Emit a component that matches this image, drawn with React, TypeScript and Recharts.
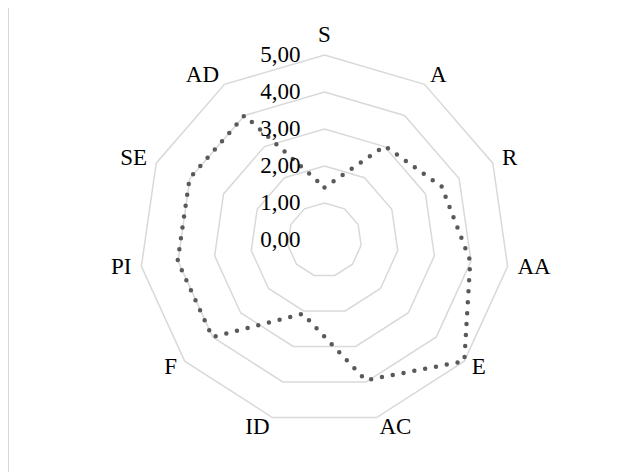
import React from 'react';
import { RadarChart, Radar, PolarGrid, PolarAngleAxis, PolarRadiusAxis } from 'recharts';

// axis categories, clockwise from the top
const categories = ['S', 'A', 'R', 'AA', 'E', 'AC', 'ID', 'F', 'PI', 'SE', 'AD'];
// values (scale 0..5)
const scores = [1.42, 3.02, 3.48, 3.98, 5.0, 3.95, 2.08, 4.01, 4.01, 4.01, 4.0];
const radiusTicks = [0, 1, 2, 3, 4, 5];

const data = categories.map((axis, i) => ({ axis, value: scores[i] }));

const CX = 315.5;
const CY = 232;
const R = 185;
const FONT = '"Liberation Serif", "Times New Roman", serif';
const RAD = Math.PI / 180;

// decimal comma, two places
const formatTick = (v: number) => v.toFixed(2).replace('.', ',');

function AngleTick(props: any) {
  const { payload } = props;
  const angle = payload.coordinate;
  const x = CX + (R + 10) * Math.cos(-angle * RAD);
  const y = CY + (R + 10) * Math.sin(-angle * RAD);
  const dx = x - CX;
  let anchor: 'start' | 'end' | 'middle' = 'middle';
  if (dx > 1) anchor = 'start';
  else if (dx < -1) anchor = 'end';
  const shift = anchor === 'middle' ? (y < CY ? -11 : 11) : -1;
  return (
    <text
      x={x}
      y={y + shift}
      textAnchor={anchor}
      dominantBaseline="central"
      fontFamily={FONT}
      fontSize={23}
      fill="#000"
    >
      {payload.value}
    </text>
  );
}

function RadiusTick(props: any) {
  const { x, y, payload } = props;
  return (
    <text
      x={x - 24}
      y={y - 1}
      textAnchor="end"
      dominantBaseline="central"
      fontFamily={FONT}
      fontSize={23}
      fill="#000"
    >
      {formatTick(payload.value)}
    </text>
  );
}

export default function App() {
  return (
    <div
      style={{
        width: 640,
        height: 480,
        marginTop: -1,
        border: '1px solid #d9d9d9',
        background: '#fff',
      }}
    >
      <RadarChart
        width={640}
        height={480}
        data={data}
        cx={CX}
        cy={CY}
        outerRadius={R}
        margin={{ top: 0, right: 0, bottom: 0, left: 0 }}
      >
        <PolarGrid gridType="polygon" radialLines={false} stroke="#d9d9d9" strokeWidth={1.5} />
        <PolarAngleAxis dataKey="axis" tick={AngleTick} tickLine={false} axisLine={false} />
        <PolarRadiusAxis
          angle={90}
          domain={[0, 5]}
          ticks={radiusTicks as any}
          tickCount={6}
          tick={RadiusTick}
          axisLine={false}
          tickLine={false}
        />
        <Radar
          dataKey="value"
          stroke="#595959"
          strokeWidth={4.5}
          strokeDasharray="0 11"
          strokeLinecap="round"
          fill="none"
          fillOpacity={0}
          dot={false}
          isAnimationActive={false}
        />
      </RadarChart>
    </div>
  );
}
